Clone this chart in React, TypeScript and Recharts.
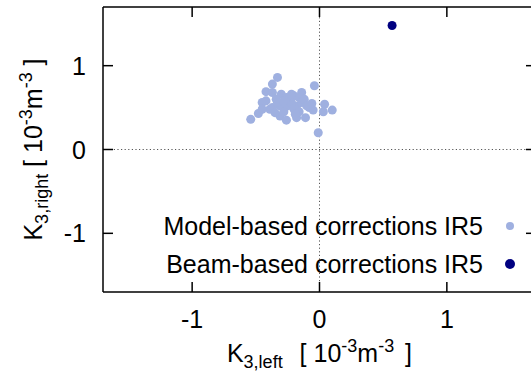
import React from "react"
import { ScatterChart, Scatter, XAxis, YAxis, ZAxis, ReferenceLine, Legend } from "recharts"

// model-based corrections IR5 (K3,left, K3,right) in 1e-3 m^-3
const modelLeft = [
  -0.33, -0.37, -0.42, -0.37, -0.3, -0.14, -0.04, -0.45, -0.34, -0.24, -0.16, 0.04, 0.03, 0.1,
  -0.08, -0.25, -0.39, -0.31, -0.18, -0.31, -0.48, -0.54, -0.26, -0.18, -0.11, -0.01, -0.45, -0.37,
  -0.22, -0.2, -0.14, -0.28, -0.12, -0.16, -0.26, -0.33, -0.28, -0.2, -0.42, -0.35, -0.1, -0.05,
  -0.19, -0.06, -0.22,
]
const modelRight = [
  0.86, 0.78, 0.69, 0.68, 0.66, 0.68, 0.76, 0.56, 0.6, 0.6, 0.62, 0.54, 0.45, 0.47,
  0.5, 0.52, 0.48, 0.52, 0.52, 0.4, 0.43, 0.36, 0.35, 0.38, 0.38, 0.2, 0.48, 0.5,
  0.56, 0.48, 0.56, 0.45, 0.6, 0.45, 0.62, 0.56, 0.58, 0.64, 0.58, 0.44, 0.52, 0.47,
  0.42, 0.55, 0.66,
]
// beam-based corrections IR5
const beamLeft = [0.57]
const beamRight = [1.48]

const ticks = [-1, 0, 1]
const series = [
  { name: "Model-based corrections IR5", color: "#9fb0e0" },
  { name: "Beam-based corrections IR5", color: "#000080" },
]

const modelData = modelLeft.map((x, i) => ({ x, y: modelRight[i] }))
const beamData = beamLeft.map((x, i) => ({ x, y: beamRight[i] }))

const font = "'Liberation Sans', Arial, Helvetica, sans-serif"
const fs = 25
const sub = 18
const domain: [number, number] = [-1.7, 1.7]
const frame = { stroke: "#000", strokeWidth: 1.5 }
const tickLen = 10

// label + inward tick line; the axis is at (x, y) because tickSize and tickMargin are 0
const BottomTick = ({ x, y, payload }: any) => (
  <g>
    <path d={`M${x},${y}V${y - tickLen}`} stroke="#000" strokeWidth={1.5} fill="none" />
    <text x={x} y={y + 36} textAnchor="middle" fontSize={fs} fontFamily={font} fill="#000">
      {payload.value}
    </text>
  </g>
)
const LeftTick = ({ x, y, payload }: any) => (
  <g>
    <path d={`M${x},${y}H${x + tickLen}`} stroke="#000" strokeWidth={1.5} fill="none" />
    <text x={x - 17} y={y + 9} textAnchor="end" fontSize={fs} fontFamily={font} fill="#000">
      {payload.value}
    </text>
  </g>
)
const TopTick = ({ x, y }: any) => (
  <path d={`M${x},${y}V${y + tickLen}`} stroke="#000" strokeWidth={1.5} fill="none" />
)
const RightTick = ({ x, y }: any) => (
  <path d={`M${x},${y}H${x - tickLen}`} stroke="#000" strokeWidth={1.5} fill="none" />
)

const XLabel = ({ viewBox }: any) => {
  const cx = viewBox.x + viewBox.width / 2
  return (
    <text x={cx} y={viewBox.y + 70} textAnchor="middle" fontSize={fs} fontFamily={font} fill="#000">
      K<tspan fontSize={sub} dy={6}>3,left</tspan>
      <tspan dy={-6} dx={10}>{" [ 10"}</tspan>
      <tspan fontSize={sub} dy={-10}>-3</tspan>
      <tspan dy={10}>m</tspan>
      <tspan fontSize={sub} dy={-10}>-3</tspan>
      <tspan dy={10} dx={4}>{" ]"}</tspan>
    </text>
  )
}
const YLabel = ({ viewBox }: any) => {
  const cy = viewBox.y + viewBox.height / 2
  const lx = 42
  return (
    <text
      x={lx}
      y={cy}
      transform={`rotate(-90 ${lx} ${cy})`}
      textAnchor="middle"
      fontSize={fs}
      fontFamily={font}
      fill="#000"
    >
      K<tspan fontSize={sub} dy={6}>3,right</tspan>
      <tspan dy={-6}>{" [ 10"}</tspan>
      <tspan fontSize={sub} dy={-10}>-3</tspan>
      <tspan dy={10}>m</tspan>
      <tspan fontSize={sub} dy={-10}>-3</tspan>
      <tspan dy={10}>{" ]"}</tspan>
    </text>
  )
}

const LegendBox = () => (
  <div style={{ fontFamily: font, fontSize: fs, color: "#000" }}>
    {series.map((s, i) => (
      <div key={s.name} style={{ display: "flex", alignItems: "center", height: 38 }}>
        <div style={{ width: 483, textAlign: "right", whiteSpace: "nowrap" }}>{s.name}</div>
        <div style={{ width: i === 0 ? 23 : 22 }} />
        <div
          style={{
            width: i === 0 ? 8 : 10,
            height: i === 0 ? 8 : 10,
            borderRadius: "50%",
            background: s.color,
          }}
        />
      </div>
    ))}
  </div>
)

export default function App() {
  return (
    <div
      style={{
        position: "absolute",
        left: 0,
        top: 0,
        width: 531,
        height: 376,
        overflow: "hidden",
        background: "#fff",
      }}
    >
      <ScatterChart width={546} height={376} margin={{ top: 6, right: 9, bottom: 0, left: 0 }}>
        <XAxis
          type="number"
          dataKey="x"
          domain={domain}
          ticks={ticks}
          height={84}
          tickSize={0}
          tickMargin={0}
          tickLine={false}
          axisLine={frame}
          tick={<BottomTick />}
          allowDataOverflow
          label={<XLabel />}
        />
        <XAxis
          xAxisId="top"
          orientation="top"
          type="number"
          dataKey="x"
          domain={domain}
          ticks={ticks}
          height={1}
          tickSize={0}
          tickMargin={0}
          tickLine={false}
          axisLine={frame}
          tick={<TopTick />}
          allowDataOverflow
        />
        <YAxis
          type="number"
          dataKey="y"
          domain={domain}
          ticks={ticks}
          width={103}
          tickSize={0}
          tickMargin={0}
          tickLine={false}
          axisLine={frame}
          tick={<LeftTick />}
          allowDataOverflow
          label={<YLabel />}
        />
        <YAxis
          yAxisId="right"
          orientation="right"
          type="number"
          dataKey="y"
          domain={domain}
          ticks={ticks}
          width={1}
          tickSize={0}
          tickMargin={0}
          tickLine={false}
          axisLine={frame}
          tick={<RightTick />}
          allowDataOverflow
        />
        <ZAxis range={[78, 78]} />
        <ReferenceLine x={0} stroke="#555" strokeDasharray="1.2 2.4" />
        <ReferenceLine y={0} stroke="#555" strokeDasharray="1.2 2.4" />
        <Legend
          layout="vertical"
          align="center"
          verticalAlign="middle"
          wrapperStyle={{ top: 207, left: 0, width: 531 }}
          content={<LegendBox />}
        />
        <Scatter name={series[0].name} data={modelData} fill={series[0].color} isAnimationActive={false} />
        <Scatter name={series[1].name} data={beamData} fill={series[1].color} isAnimationActive={false} />
      </ScatterChart>
    </div>
  )
}
